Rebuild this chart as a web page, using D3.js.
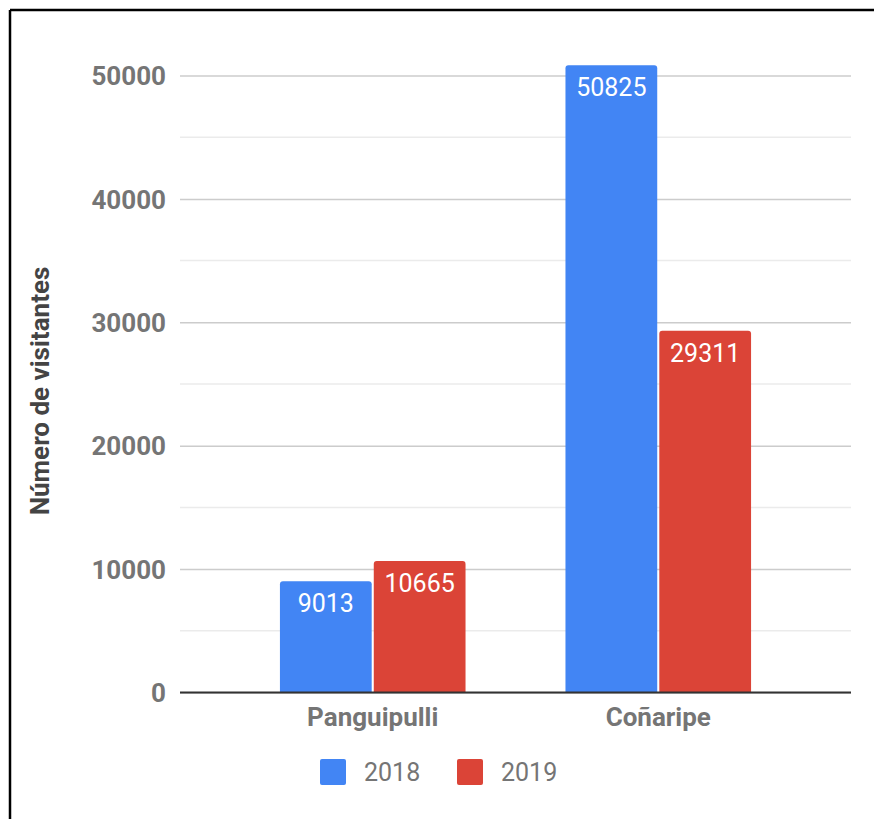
<!DOCTYPE html>
<html>
<head>
<meta charset="utf-8">
<script src="https://cdn.jsdelivr.net/npm/d3@7"></script>
<style>
  html, body { margin: 0; padding: 0; background: #fff; }
  svg { display: block; font-family: Roboto, "Noto Sans", Arial, sans-serif; }
</style>
</head>
<body>
<svg id="chart" width="874" height="819"></svg>
<script>
const categories = ["Panguipulli", "Coñaripe"];
const seriesNames = ["2018", "2019"];
const values2018 = [9013, 50825];
const values2019 = [10665, 29311];
const majorTicks = [0, 10000, 20000, 30000, 40000, 50000];
const minorTicks = [5000, 15000, 25000, 35000, 45000];
const colors = ["#4285F4", "#DB4437"];

const svg = d3.select("#chart");
const W = 874, H = 819;

// frame border (top and left visible)
svg.append("line").attr("x1", 10).attr("x2", W).attr("y1", 10).attr("y2", 10)
  .attr("stroke", "#000").attr("stroke-width", 2.5);
svg.append("line").attr("x1", 10).attr("x2", 10).attr("y1", 10).attr("y2", H)
  .attr("stroke", "#000").attr("stroke-width", 2.5);

const plotLeft = 180, plotRight = 851;
const y = d3.scaleLinear().domain([0, 50000]).range([692.5, 75.5]);
const x = d3.scaleBand().domain(categories).range([plotLeft, plotRight])
  .paddingInner(0.35).paddingOuter(0.35);
const xs = d3.scaleBand().domain(seriesNames).range([0, x.bandwidth()]).paddingInner(0.022);

// minor grid
svg.append("g").selectAll("line").data(minorTicks).join("line")
  .attr("x1", plotLeft).attr("x2", plotRight)
  .attr("y1", d => y(d)).attr("y2", d => y(d))
  .attr("stroke", "#ebebeb").attr("stroke-width", 1.5);

// major grid + labels via axis
const yAxis = d3.axisLeft(y).tickValues(majorTicks).tickSize(-(plotRight - plotLeft)).tickPadding(14).tickFormat(d3.format("d"));
const gy = svg.append("g").attr("transform", `translate(${plotLeft},0)`).call(yAxis);
gy.select(".domain").remove();
gy.selectAll(".tick line").attr("stroke", "#cccccc").attr("stroke-width", 1.5);
gy.selectAll(".tick text").attr("fill", "#757575").attr("font-size", 26).attr("font-weight", "bold")
  .attr("font-family", "Roboto, sans-serif").attr("dy", "0.35em");

// bars
const data = [];
categories.forEach((c, i) => {
  data.push({ cat: c, series: "2018", value: values2018[i], color: colors[0] });
  data.push({ cat: c, series: "2019", value: values2019[i], color: colors[1] });
});

function topRoundedRect(x0, y0, w, h, r) {
  return `M${x0},${y0 + h}V${y0 + r}Q${x0},${y0} ${x0 + r},${y0}H${x0 + w - r}Q${x0 + w},${y0} ${x0 + w},${y0 + r}V${y0 + h}Z`;
}

svg.append("g").selectAll("path").data(data).join("path")
  .attr("d", d => {
    const bx = x(d.cat) + xs(d.series);
    const by = y(d.value);
    return topRoundedRect(bx, by, xs.bandwidth(), y(0) - by, 3);
  })
  .attr("fill", d => d.color);

svg.append("g").selectAll("text").data(data).join("text")
  .attr("x", d => x(d.cat) + xs(d.series) + xs.bandwidth() / 2)
  .attr("y", d => y(d.value) + 31)
  .attr("text-anchor", "middle")
  .attr("fill", "#fff")
  .attr("font-size", 25)
  .text(d => d.value);

// baseline
svg.append("line").attr("x1", plotLeft).attr("x2", plotRight)
  .attr("y1", y(0)).attr("y2", y(0)).attr("stroke", "#333").attr("stroke-width", 2);

// x axis labels
const xAxis = d3.axisBottom(x).tickSize(0).tickPadding(0);
const gx = svg.append("g").attr("transform", `translate(0,${y(0)})`).call(xAxis);
gx.select(".domain").remove();
gx.selectAll(".tick text").attr("fill", "#757575").attr("font-size", 26).attr("font-weight", "bold")
  .attr("font-family", "Roboto, sans-serif").attr("dy", 0).attr("y", 33);

// y axis title
svg.append("text")
  .attr("transform", "translate(49,391) rotate(-90)")
  .attr("text-anchor", "middle")
  .attr("fill", "#444")
  .attr("font-size", 26)
  .attr("font-weight", "bold")
  .text("Número de visitantes");

// legend
const legendItems = [{ name: seriesNames[0], color: colors[0], x: 320 }, { name: seriesNames[1], color: colors[1], x: 457 }];
const lg = svg.append("g").selectAll("g").data(legendItems).join("g")
  .attr("transform", d => `translate(${d.x},759)`);
lg.append("rect").attr("width", 26).attr("height", 26).attr("rx", 2).attr("fill", d => d.color);
lg.append("text").attr("x", 44).attr("y", 22).attr("fill", "#757575").attr("font-size", 25).text(d => d.name);
</script>
</body>
</html>
